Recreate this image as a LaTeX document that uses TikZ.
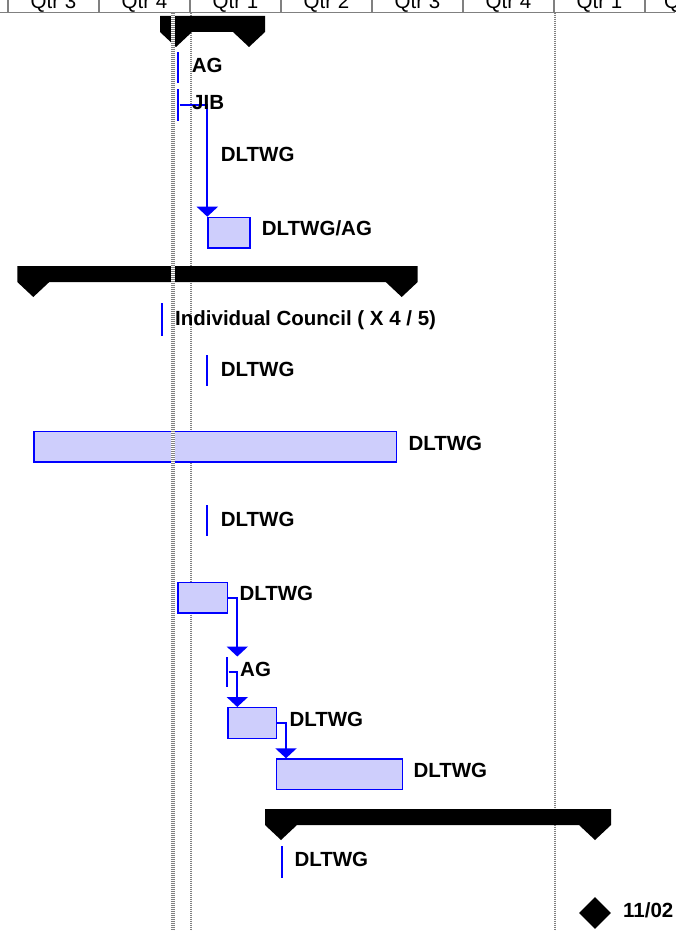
\documentclass[tikz,border=0pt]{standalone}
\usepackage{fontspec}
\setmainfont{Liberation Sans}
\usetikzlibrary{arrows.meta,shapes.geometric}
\definecolor{taskfill}{RGB}{206,206,252}
\definecolor{gridgray}{RGB}{128,128,128}
\definecolor{taskblue}{RGB}{0,0,255}
\newcommand\sumbar[3]{%
  \fill[black] (#1-16,#3) -- (#2+16,#3) -- (#2+16,#3+16) -- (#2,#3+31) -- (#2-16,#3+16)
    -- (#1+16,#3+16) -- (#1,#3+31) -- (#1-16,#3+16) -- cycle;}
\tikzset{
  tbox/.style={rectangle, draw=taskblue, line width=1.4pt, fill=taskfill, inner sep=0pt, anchor=north west, minimum height=30.5pt},
  msline/.style={rectangle, fill=taskblue, inner sep=0pt, minimum width=2pt, draw=none},
  lbl/.style={anchor=base west, inner sep=0pt, font=\bfseries\fontsize{20.5}{24}\selectfont},
  hdr/.style={anchor=base, inner sep=0pt, font=\fontsize{20.5}{24}\selectfont},
  conn/.style={color=taskblue, draw=taskblue, line width=2pt, -{Triangle[width=21pt,length=10pt]}},
  thingrid/.style={gridgray, line width=1.2pt, dash pattern=on 1pt off 1pt},
  hline/.style={gridgray, line width=1.5pt}
}
\begin{document}
\begin{tikzpicture}[x=1pt,y=-1pt]
\useasboundingbox (0,0) rectangle (675,931);
\clip (0,0) rectangle (675,931);
\fill[white] (0,0) rectangle (675,931);

% header
\draw[hline] (0,12.7) -- (675,12.7);
\foreach \xx in {8,99,190,281,372,463,554,645} {\draw[hline] (\xx,0) -- (\xx,12.7);}
\node[hdr] (h1) at (53.5,8.5) {Qtr 3};
\node[hdr] (h2) at (144.5,8.5) {Qtr 4};
\node[hdr] (h3) at (235.5,8.5) {Qtr 1};
\node[hdr] (h4) at (326.5,8.5) {Qtr 2};
\node[hdr] (h5) at (417.5,8.5) {Qtr 3};
\node[hdr] (h6) at (508.5,8.5) {Qtr 4};
\node[hdr] (h7) at (599.5,8.5) {Qtr 1};
\node[hdr, anchor=base west] (h8) at (664,8.5) {Q};

% thin dotted grid lines
\draw[thingrid] (191,12.7) -- (191,931);
\draw[thingrid] (555,12.7) -- (555,931);

% summary bars
\sumbar{176}{249}{16}
\sumbar{33.3}{401.7}{266}
\sumbar{281}{595}{809}

% task boxes
\node[tbox, minimum width=42pt] (b0) at (207.3,216.7) {};
\node[tbox, minimum width=362.4pt] (bbig) at (33.3,430.7) {};
\node[tbox, minimum width=49.4pt] (b1) at (177.3,581.7) {};
\node[tbox, minimum width=48.7pt] (b3) at (227.3,707) {};
\node[tbox, minimum width=125.7pt] (b4) at (276,758.3) {};

% short tasks (vertical lines)
\node[msline, minimum height=31.6pt] (ag1) at (178.3,67.5) {};
\node[msline, minimum height=31.4pt] (jib) at (178.3,105) {};
\node[msline, minimum height=31.7pt] (d1) at (207.3,155.8) {};
\node[msline, minimum height=32.7pt] (ic) at (162.3,319.7) {};
\node[msline, minimum height=31pt] (d2) at (207.3,370.5) {};
\node[msline, minimum height=31pt] (d3) at (207.3,520.5) {};
\node[msline, minimum height=30.6pt] (ag2) at (227.3,672) {};
\node[msline, minimum height=31.7pt] (d4) at (281.7,862) {};

% milestone
\node[diamond, fill=black, inner sep=0pt, minimum width=32pt, minimum height=32pt] (ms) at (595,913) {};

% connectors
\draw[conn] (jib.east) -| (b0.north west);
\draw[conn] (b1.east) -| ([xshift=10pt]ag2.north);
\draw[conn] (ag2.east) -| ([xshift=10pt]b3.north west);
\draw[conn] (b3.east) -| ([xshift=10pt]b4.north west);

% labels
\node[lbl] (lag1) at (191.7,72.7) {AG};
\node[lbl] (ljib) at (192,110) {JIB};
\node[lbl] (ld1) at (220.7,161) {DLTWG};
\node[lbl] (lb0) at (261.7,235) {DLTWG/AG};
\node[lbl] (lic) at (175,325) {Individual Council ( X 4 / 5)};
\node[lbl] (ld2) at (220.7,376) {DLTWG};
\node[lbl] (lbig) at (408.3,450) {DLTWG};
\node[lbl] (ld3) at (220.7,526) {DLTWG};
\node[lbl] (lb1) at (239.3,600.7) {DLTWG};
\node[lbl] (lag2) at (240,676.7) {AG};
\node[lbl] (lb3) at (289.3,726.7) {DLTWG};
\node[lbl] (lb4) at (413.3,777.3) {DLTWG};
\node[lbl] (ld4) at (294.3,866) {DLTWG};
\node[lbl] (lms) at (623,917) {11/02};

% dense status line on top
\draw[white, line width=4pt] (173,12.7) -- (173,931);
\draw[gridgray, line width=4pt, dash pattern=on 1pt off 1pt] (173,12.7) -- (173,931);
\end{tikzpicture}
\end{document}
